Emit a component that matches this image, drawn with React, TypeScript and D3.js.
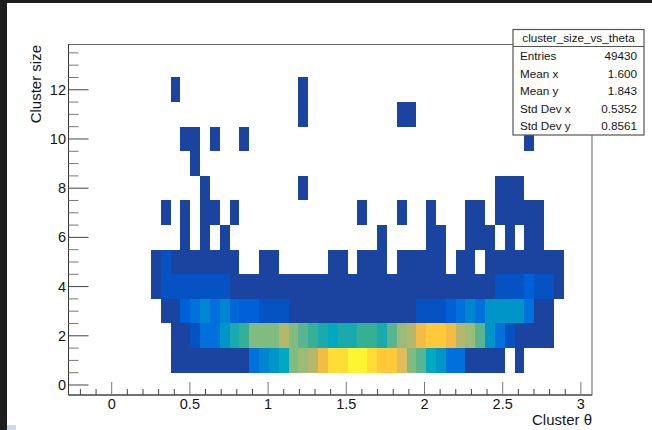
import React from "react";
import * as d3 from "d3";

const W = 652;
const H = 430;
const _ = null;

// Histogram bins: theta columns 4..45 of width pi/50, colour level per bin
const firstColumn = 4;
const binWidth = Math.PI / 50;
const size1 = [_,_,0,0,0,0,0,0,0,0,3,4,5,6,10,11,12,14,16,16,17,17,16,15,15,13,10,9,6,5,3,3,0,0,0,0,_,0,_,_,_,_];
const size2 = [_,_,0,0,1,3,3,5,7,8,10,10,10,12,10,9,8,7,6,7,7,8,8,7,9,11,12,14,15,15,14,12,11,9,5,3,1,0,0,0,0,_];
const size3 = [_,0,0,2,3,4,3,4,2.5,2,2,1,1,1,0,0,0,0,0,0,0,0,0,0,0,0,0,1,1,1,2,3,4,3,5,5,5,5,3,0,0,_];
const size4 = [0,1,1,1,1,1,1,1,0,0,0,0,0,0,0,0,0,0,0,0,0,0,0,0,0,0,0,0,0,0,0,0,0,0,0,1,1,1,2,1,1,0];
const size5 = [0,1,0,0,0,0,0,0,0,_,_,0,0,_,_,_,_,_,0,0,_,0,0,0,_,0,0,0,0,0,_,0,0,_,0,0,0,0,0,0,0,0];

// Sparse rows: theta columns holding the lowest level
const size6Columns = [7,9,11,27,32,33,36,37,38,40,42,43];
const size7Columns = [5,7,9,10,12,25,29,32,36,37,39,40,41,42,43];
const size8Columns = [9,19,39,40,41];
const size9Columns = [8];
const size10Columns = [7,8,10,13,42];
const size11Columns = [19,29,30];
const size12Columns = [6,19];

const levelColors = ["#1a44a0","#0553c2","#0060d8","#0070dd","#0085d0","#0095c8","#00a8c0","#18aaac","#35b095","#58b590","#82bb80","#9dbb78","#b5b86c","#e0bc5c","#f5bc45","#ffc93a","#ffdd35","#fdf531"];

const xTickLabels = [0, 0.5, 1, 1.5, 2, 2.5, 3];
const yTickLabels = [0, 2, 4, 6, 8, 10, 12];
const statNames = ["Entries", "Mean x", "Mean y", "Std Dev x", "Std Dev y"];
const statValues = ["49430", "1.600", "1.843", "0.5352", "0.8561"];

const FONT = "'Liberation Sans', Arial, sans-serif";
const INK = "#444";
const TEXT = "#151515";

export default function App() {
  const x = d3.scaleLinear().domain([-0.2762, 3.071]).range([68.5, 592]);
  const y = d3.scaleLinear().domain([-0.4065, 13.84]).range([395, 44.5]);
  const color = d3.scaleLinear<string>().domain(levelColors.map((_c, i) => i)).range(levelColors);

  const cells: { col: number; size: number; level: number }[] = [];
  [size1, size2, size3, size4, size5].forEach((row, r) =>
    row.forEach((level, i) => {
      if (level !== null) cells.push({ col: firstColumn + i, size: r + 1, level });
    })
  );
  [size6Columns, size7Columns, size8Columns, size9Columns, size10Columns, size11Columns, size12Columns].forEach((row, r) =>
    row.forEach((col) => cells.push({ col, size: r + 6, level: 0 }))
  );

  const xMinor = d3.range(-2, 31).map((v) => v / 10);
  const yMinor = d3.range(0, 28).map((v) => v / 2);

  const box = { l: 513, r: 644, t: 29.5, d: 46.5, b: 135 };

  return (
    <svg width={W} height={H} style={{ position: "fixed", left: 0, top: 0, background: "#fff" }} fontFamily={FONT}>
      <rect x={0} y={0} width={W} height={3} fill="#1e1e1e" />
      <rect x={0} y={0} width={7} height={H} fill="#1e1e1e" />
      <rect x={7} y={425} width={9} height={5} fill="#c8dcec" />

      <g shapeRendering="crispEdges">
        {cells.map((c) => {
          const x0 = x(c.col * binWidth);
          const x1 = x((c.col + 1) * binWidth);
          const y0 = y(c.size + 0.5);
          const y1 = y(c.size - 0.5);
          return <rect key={`${c.col}-${c.size}`} x={x0} y={y0} width={x1 - x0} height={y1 - y0} fill={color(c.level)} />;
        })}
      </g>

      <rect x={68.5} y={44.5} width={523.5} height={350.5} fill="none" stroke="#666" strokeWidth={1} />
      <line x1={68.5} x2={592} y1={395} y2={395} stroke="#333" />
      <line x1={68.5} x2={68.5} y1={44.5} y2={395} stroke="#333" />

      <g stroke={INK} strokeWidth={1}>
        {xMinor.map((v) => {
          const major = xTickLabels.includes(v);
          return <line key={v} x1={x(v)} x2={x(v)} y1={395} y2={major ? 382 : 389} stroke={major ? "#777" : INK} />;
        })}
        {yMinor.map((v) => {
          const major = yTickLabels.includes(v);
          return <line key={v} x1={68.5} x2={major ? 88.5 : 78.5} y1={y(v)} y2={y(v)} stroke={major ? INK : "#777"} />;
        })}
      </g>

      <g fontSize={14.5} fill={TEXT}>
        {xTickLabels.map((v) => (
          <text key={v} x={x(v)} y={408.5} textAnchor="middle">{v}</text>
        ))}
        {yTickLabels.map((v) => (
          <text key={v} x={66} y={y(v) + 5} textAnchor="end">{v}</text>
        ))}
      </g>

      <text x={592} y={424.5} textAnchor="end" fontSize={15} fill={TEXT}>Cluster θ</text>
      <text transform="translate(40.5,45) rotate(-90)" textAnchor="end" fontSize={15} fill={TEXT}>Cluster size</text>

      <rect x={box.l} y={box.t} width={box.r - box.l} height={box.b - box.t} fill="#fff" stroke="#555" strokeWidth={1.2} />
      <line x1={box.l} x2={box.r} y1={box.d} y2={box.d} stroke="#555" strokeWidth={1.2} />
      <text x={(box.l + box.r) / 2} y={42} textAnchor="middle" fontSize={11.7} fill={TEXT}>cluster_size_vs_theta</text>
      {statNames.map((name, i) => (
        <g key={name} fontSize={11.7} fill={TEXT}>
          <text x={520} y={60 + i * 17.6}>{name}</text>
          <text x={637} y={60 + i * 17.6} textAnchor="end">{statValues[i]}</text>
        </g>
      ))}
    </svg>
  );
}
